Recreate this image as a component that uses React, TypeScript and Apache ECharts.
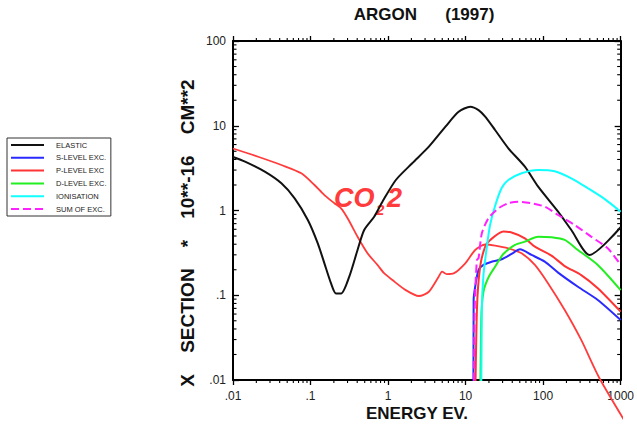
import React, { useEffect, useRef } from "react";
import * as echarts from "echarts";

// Axis ticks (decades) and their printed labels
const energyTicks = [0.01, 0.1, 1, 10, 100, 1000];
const energyTickLabels = [".01", ".1", "1", "10", "100", "1000"];
const sectionTicks = [0.01, 0.1, 1, 10, 100];
const sectionTickLabels = [".01", ".1", "1", "10", "100"];
const minorSteps = [2, 3, 4, 5, 6, 7, 8, 9];

// Cross sections [energy eV, sigma 1e-16 cm^2]
const elastic: [number, number][] = [
  [0.01, 4.28], [0.0143, 3.77], [0.0257, 2.87], [0.0421, 2.09], [0.0624, 1.39],
  [0.0923, 0.773], [0.124, 0.41], [0.151, 0.238], [0.184, 0.138], [0.213, 0.105],
  [0.248, 0.105], [0.316, 0.166], [0.404, 0.342], [0.492, 0.589], [0.662, 0.845],
  [0.846, 1.27], [1.26, 2.29], [2.05, 3.61], [3.36, 5.66], [5.5, 9.75],
  [8.13, 14.6], [11.5, 16.8], [14.7, 15.3], [17.9, 12.8], [24.0, 8.91],
  [35.6, 5.42], [58.2, 3.29], [86.3, 1.91], [156, 0.968], [231, 0.589],
  [397, 0.299], [1000, 0.634],
];

const sLevel: [number, number][] = [
  [12.6, 0.001], [12.7, 0.088], [13.3, 0.126], [14.7, 0.199], [17.0, 0.228],
  [21.7, 0.249], [29.2, 0.266], [39.2, 0.307], [50.3, 0.348], [70.8, 0.299],
  [105, 0.249], [156, 0.185], [281, 0.126], [507, 0.088], [1000, 0.051],
];

const pLevel: [number, number][] = [
  [13.0, 0.001], [14.0, 0.067], [15.4, 0.217], [17.9, 0.374], [20.8, 0.449],
  [30.7, 0.565], [39.2, 0.549], [58.2, 0.47], [78.3, 0.374], [128, 0.294],
  [190, 0.221], [310, 0.173], [507, 0.121], [1000, 0.064],
];

const dLevel: [number, number][] = [
  [15.2, 0.001], [15.9, 0.051], [17.0, 0.11], [19.7, 0.162], [24.0, 0.217],
  [30.7, 0.307], [43.4, 0.392], [58.2, 0.429], [86.3, 0.491], [128, 0.483],
  [190, 0.449], [281, 0.342], [507, 0.228], [1000, 0.115],
];

const ionisation: [number, number][] = [
  [15.8, 0.001], [16.2, 0.067], [17.0, 0.173], [18.8, 0.374], [20.7, 0.675],
  [24.0, 1.13], [29.2, 1.84], [35.6, 2.29], [52.7, 2.75], [86.3, 3.01],
  [141, 2.91], [231, 2.4], [378, 1.83], [618, 1.37], [1000, 0.968],
];

const sumExc: [number, number][] = [
  [12.6, 0.001], [13.0, 0.051], [13.3, 0.105], [14.0, 0.261], [14.7, 0.275],
  [16.2, 0.538], [19.7, 0.809], [26.5, 1.06], [35.6, 1.22], [47.8, 1.27],
  [70.8, 1.22], [105, 1.11], [156, 0.885], [255, 0.675], [416, 0.491],
  [681, 0.358], [1000, 0.228],
];

const co2Level2: [number, number][] = [
  [0.01, 5.39], [0.0211, 4.31], [0.0421, 3.44], [0.076, 2.75], [0.1125, 2.0],
  [0.151, 1.52], [0.203, 1.22], [0.248, 1.06], [0.301, 0.809], [0.404, 0.491],
  [0.543, 0.313], [0.73, 0.228], [0.889, 0.182], [1.14, 0.151], [1.69, 0.115],
  [2.5, 0.098], [3.36, 0.11], [4.51, 0.166], [4.97, 0.19], [5.7, 0.178],
  [7.01, 0.181], [9.91, 0.238], [13.3, 0.342], [17.9, 0.397], [24.0, 0.386],
  [35.6, 0.358], [52.7, 0.313], [78.3, 0.228], [116, 0.138], [190, 0.067],
  [310, 0.0297], [533, 0.0105], [1510, 0.00212],
];

const FONT = "'Liberation Sans', Arial, Helvetica, sans-serif";
const E_MIN = 0.01, E_MAX = 1000, S_MIN = 0.01, S_MAX = 100;

const labelFor = (ticks: number[], labels: string[]) => (v: number) => {
  const i = ticks.findIndex((t) => Math.abs(Math.log10(t) - Math.log10(v)) < 1e-6);
  return i >= 0 ? labels[i] : "";
};

const decadesBetween = (lo: number, hi: number) => {
  const out: number[] = [];
  for (let d = Math.round(Math.log10(lo)); d < Math.round(Math.log10(hi)); d++) {
    for (const m of minorSteps) out.push(m * Math.pow(10, d));
  }
  return out;
};

export default function App() {
  const ref = useRef<HTMLDivElement>(null);

  useEffect(() => {
    document.body.style.margin = "0";
    if (!ref.current) return;
    const chart = echarts.init(ref.current, undefined, { renderer: "svg" });

    const frame = { show: true, lineStyle: { color: "#000", width: 2 } };
    const tickStyle = { color: "#000", width: 1.3 };

    const lineSeries = (
      name: string,
      data: [number, number][],
      color: string,
      extra: Record<string, unknown> = {}
    ) => ({
      name,
      type: "line",
      data,
      showSymbol: false,
      symbol: "none",
      smooth: 0.25,
      lineStyle: { color, width: 2 },
      itemStyle: { color },
      ...extra,
    });

    const minorE = decadesBetween(E_MIN, E_MAX);
    const minorS = decadesBetween(S_MIN, S_MAX);

    chart.setOption({
      animation: false,
      grid: { left: 233, right: 14, top: 41, bottom: 56, containLabel: false },
      legend: {
        data: ["ELASTIC", "S-LEVEL EXC.", "P-LEVEL EXC", "D-LEVEL EXC.", "IONISATION", "SUM OF EXC."],
        orient: "vertical",
        left: 7,
        top: 138,
        padding: [3, 4, 3, 3],
        itemWidth: 33,
        itemHeight: 8,
        itemGap: 4.8,
        borderColor: "#333",
        borderWidth: 1,
        selectedMode: false,
        itemStyle: { opacity: 0 },
        textStyle: { fontSize: 7.5, color: "#222", fontFamily: FONT, padding: [0, 0, 0, 7] },
      },
      xAxis: [
        {
          type: "log", logBase: 10, min: E_MIN, max: E_MAX, position: "bottom",
          axisLine: frame,
          axisTick: { show: true, inside: false, length: 5, lineStyle: tickStyle },
          axisLabel: {
            formatter: labelFor(energyTicks, energyTickLabels),
            fontSize: 12, color: "#222", fontFamily: FONT, margin: 10,
            showMinLabel: true, showMaxLabel: true,
          },
          splitLine: { show: false },
        },
        {
          type: "log", logBase: 10, min: E_MIN, max: E_MAX, position: "top",
          axisLine: frame,
          axisTick: { show: true, inside: false, length: 5, lineStyle: tickStyle },
          axisLabel: { show: false },
          splitLine: { show: false },
        },
      ],
      yAxis: [
        {
          type: "log", logBase: 10, min: S_MIN, max: S_MAX, position: "left",
          axisLine: frame,
          axisTick: { show: true, inside: true, length: 6, lineStyle: tickStyle },
          axisLabel: {
            formatter: labelFor(sectionTicks, sectionTickLabels),
            fontSize: 12, color: "#222", fontFamily: FONT, margin: 7,
            showMinLabel: true, showMaxLabel: true,
          },
          splitLine: { show: false },
        },
        {
          type: "log", logBase: 10, min: S_MIN, max: S_MAX, position: "right",
          axisLine: frame,
          axisTick: { show: true, inside: true, length: 6, lineStyle: tickStyle },
          axisLabel: { show: false },
          splitLine: { show: false },
        },
      ],
      series: [
        {
          type: "custom",
          silent: true,
          clip: false,
          data: minorE.map((v) => [v, 1]),
          renderItem: (_p: unknown, api: any) => {
            const v = api.value(0);
            const b = api.coord([v, S_MIN]);
            const t = api.coord([v, S_MAX]);
            return {
              type: "group",
              children: [
                { type: "line", shape: { x1: b[0], y1: b[1], x2: b[0], y2: b[1] + 3 }, style: { stroke: "#000", lineWidth: 1.1 } },
                { type: "line", shape: { x1: t[0], y1: t[1], x2: t[0], y2: t[1] - 3 }, style: { stroke: "#000", lineWidth: 1.1 } },
              ],
            };
          },
        },
        {
          type: "custom",
          silent: true,
          clip: false,
          data: minorS.map((v) => [1, v]),
          renderItem: (_p: unknown, api: any) => {
            const v = api.value(1);
            const l = api.coord([E_MIN, v]);
            const r = api.coord([E_MAX, v]);
            return {
              type: "group",
              children: [
                { type: "line", shape: { x1: l[0], y1: l[1], x2: l[0] + 3.5, y2: l[1] }, style: { stroke: "#000", lineWidth: 1.1 } },
                { type: "line", shape: { x1: r[0], y1: r[1], x2: r[0] - 3.5, y2: r[1] }, style: { stroke: "#000", lineWidth: 1.1 } },
              ],
            };
          },
        },
        lineSeries("CO2 2", co2Level2, "#ff3b3b", { clip: false, lineStyle: { color: "#ff3b3b", width: 1.8 } }),
        lineSeries("ELASTIC", elastic, "#111111"),
        lineSeries("S-LEVEL EXC.", sLevel, "#2a2aff"),
        lineSeries("P-LEVEL EXC", pLevel, "#ff3333"),
        lineSeries("D-LEVEL EXC.", dLevel, "#22ee22"),
        lineSeries("IONISATION", ionisation, "#11ffff"),
        lineSeries("SUM OF EXC.", sumExc, "#ff22ff", { lineStyle: { color: "#ff22ff", width: 2, type: [8, 4] } }),
      ],
      graphic: [
        {
          type: "text", x: 424, y: 14,
          style: { text: "ARGON      (1997)", font: `bold 17px ${FONT}`, fill: "#111", align: "center", verticalAlign: "middle" },
        },
        {
          type: "text", x: 417, y: 413,
          style: { text: "ENERGY EV.", font: `bold 17px ${FONT}`, fill: "#111", align: "center", verticalAlign: "middle" },
        },
        {
          type: "text", x: 187, y: 233, rotation: Math.PI / 2,
          style: { text: "X    SECTION    *    10**-16    CM**2", font: `bold 19px ${FONT}`, fill: "#111", align: "center", verticalAlign: "middle" },
        },
        {
          type: "text", x: 334, y: 198,
          style: { text: "CO", font: `italic bold 27px ${FONT}`, fill: "#ff3b3b", align: "left", verticalAlign: "middle" },
        },
        {
          type: "text", x: 376, y: 209,
          style: { text: "2", font: `italic bold 15px ${FONT}`, fill: "#ff3b3b", align: "left", verticalAlign: "middle" },
        },
        {
          type: "text", x: 387, y: 198,
          style: { text: "2", font: `italic bold 27px ${FONT}`, fill: "#ff3b3b", align: "left", verticalAlign: "middle" },
        },
      ],
    });

    return () => chart.dispose();
  }, []);

  return <div ref={ref} style={{ width: 637, height: 436 }} />;
}
